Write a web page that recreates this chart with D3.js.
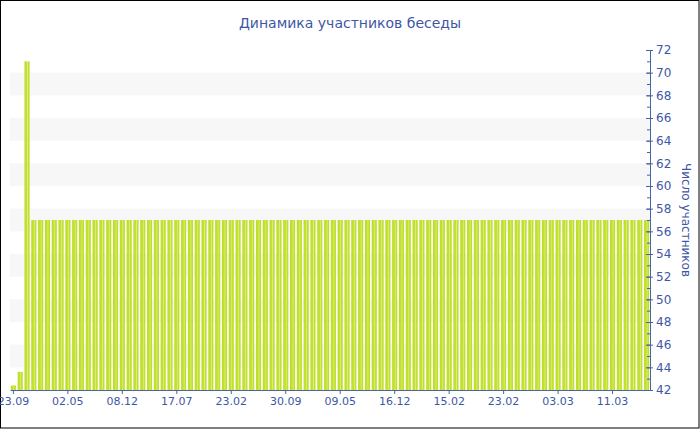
<!DOCTYPE html>
<html><head><meta charset="utf-8">
<script src="https://cdn.jsdelivr.net/npm/d3@7"></script>
<style>body{margin:0;background:#fff}svg{display:block}</style>
</head><body>
<svg id="c" width="700" height="430"></svg>
<script>
const title = "Динамика участников беседы";
const yTitle = "Число участников";
const values = [42.4, 43.6, 71,
 57,57,57,57,57,57,57,57,57,57,57,57,57,57,57,57,57,57,57,57,57,57,57,57,57,57,57,57,57,57,
 57,57,57,57,57,57,57,57,57,57,57,57,57,57,57,57,57,57,57,57,57,57,57,57,57,57,57,57,57,57,
 57,57,57,57,57,57,57,57,57,57,57,57,57,57,57,57,57,57,57,57,57,57,57,57,57,57,57,57,57,57,57];
const tickIndex = [0, 8, 16, 24, 32, 40, 48, 56, 64, 72, 80, 88];
const tickLabels = ["23.09","02.05","08.12","17.07","23.02","30.09","09.05","16.12","15.02","23.02","03.03","11.03"];
const yDomain = [42, 72];
const bands = [[44,46],[48,50],[52,54],[56,58],[60,62],[64,66],[68,70]];

const svg = d3.select("#c");
const L = 10, R = 650, T = 50, B = 390;
const axisColor = "#4a62a8", textColor = "#3e57a4";
const font = "DejaVu Sans, Verdana, sans-serif";

const x = d3.scaleBand().domain(d3.range(values.length)).range([L, R]).paddingInner(0.25).paddingOuter(0.125);
const y = d3.scaleLinear().domain(yDomain).range([B, T]);

const defs = svg.append("defs");
const g = defs.append("linearGradient").attr("id","bar").attr("x1","0").attr("x2","1").attr("y1","0").attr("y2","0");
g.append("stop").attr("offset","0%").attr("stop-color","#bcdc28");
g.append("stop").attr("offset","45%").attr("stop-color","#c4e236");
g.append("stop").attr("offset","60%").attr("stop-color","#dcef7e");
g.append("stop").attr("offset","75%").attr("stop-color","#c2e032");
g.append("stop").attr("offset","100%").attr("stop-color","#bcdc28");

svg.append("rect").attr("x",0.5).attr("y",0.5).attr("width",698.5).attr("height",427.5)
  .attr("fill","#fff").attr("stroke","#000");

svg.append("g").selectAll("rect").data(bands).join("rect")
  .attr("x", L).attr("width", R - L)
  .attr("y", d => y(d[1])).attr("height", d => y(d[0]) - y(d[1]))
  .attr("fill", "#f7f7f7");

svg.append("g").selectAll("rect").data(values).join("rect")
  .attr("x", (d,i) => x(i)).attr("width", x.bandwidth())
  .attr("y", d => y(d)).attr("height", d => B - y(d))
  .attr("fill", "url(#bar)");

// title
svg.append("text").attr("x", 350).attr("y", 28).attr("text-anchor","middle")
  .attr("font-family", font).attr("font-size", 14).attr("fill", textColor).text(title);

// x axis
const xa = svg.append("g").attr("transform", `translate(0,${B})`)
  .call(d3.axisBottom(x).tickValues(tickIndex).tickFormat((d,i) => tickLabels[i]).tickSize(4).tickSizeOuter(0));
xa.select(".domain").attr("stroke", axisColor);
xa.selectAll(".tick line").attr("stroke", axisColor);
xa.selectAll(".tick text").attr("fill", textColor).attr("font-family", font).attr("font-size", 11);

// y axis minor
const yMinor = svg.append("g").attr("transform", `translate(${R},0)`)
  .call(d3.axisLeft(y).ticks(30).tickSize(3).tickFormat("").tickSizeOuter(0));
yMinor.select(".domain").remove();
yMinor.selectAll(".tick line").attr("stroke", axisColor);

const ya = svg.append("g").attr("transform", `translate(${R},0)`)
  .call(d3.axisRight(y).ticks(15).tickSize(3).tickPadding(3).tickSizeOuter(0));
ya.select(".domain").attr("stroke", axisColor);
ya.selectAll(".tick line").attr("stroke", axisColor).attr("x1", -4);
ya.selectAll(".tick text").attr("fill", textColor).attr("font-family", font).attr("font-size", 12);

svg.append("text").attr("transform", `translate(682,${(T+B)/2}) rotate(90)`)
  .attr("text-anchor","middle").attr("font-family", font).attr("font-size", 12)
  .attr("fill", textColor).text(yTitle);
</script>
</body></html>
